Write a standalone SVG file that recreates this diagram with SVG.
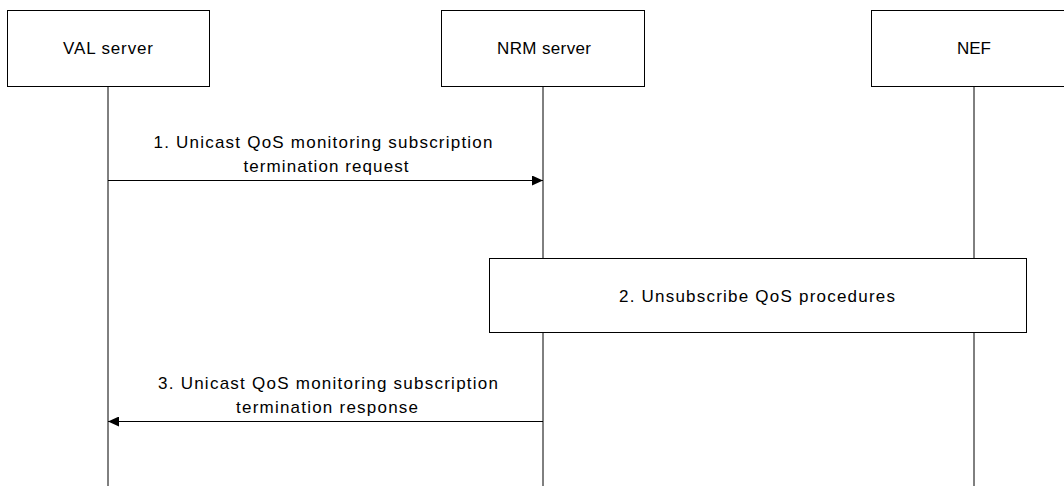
<svg xmlns="http://www.w3.org/2000/svg" width="1064" height="486" viewBox="0 0 1064 486">
<style>
.box{fill:#fff;stroke:#000;stroke-width:1}
.life{stroke:#000;stroke-width:1;fill:none}
.msg{stroke:#000;stroke-width:1;fill:none}
text{font-family:"Liberation Sans",Arial,sans-serif;font-size:17px;fill:#000;text-anchor:middle}
</style>
<defs>
<marker id="ah" viewBox="0 0 11 10" refX="11" refY="5" markerWidth="11" markerHeight="10" markerUnits="userSpaceOnUse" orient="auto">
<path d="M0,0 L11,5 L0,10 z" fill="#000"/>
</marker>
</defs>
<rect width="1064" height="486" fill="#fff"/>
<g id="connectors">
<line class="life" x1="108" y1="86" x2="108" y2="486"/>
<line class="life" x1="543" y1="86" x2="543" y2="258"/>
<line class="life" x1="543" y1="332" x2="543" y2="486"/>
<line class="life" x1="974" y1="86" x2="974" y2="258"/>
<line class="life" x1="974" y1="332" x2="974" y2="486"/>
<line class="msg" x1="108" y1="180.5" x2="543" y2="180.5" marker-end="url(#ah)"/>
<line class="msg" x1="543" y1="421.5" x2="108" y2="421.5" marker-end="url(#ah)"/>
</g>
<g id="val">
<rect class="box" x="7.5" y="10.5" width="202" height="76"/>
<text x="108" y="54" textLength="90" lengthAdjust="spacing">VAL server</text>
</g>
<g id="nrm">
<rect class="box" x="441.5" y="10.5" width="203" height="76"/>
<text x="544" y="54" textLength="94" lengthAdjust="spacing">NRM server</text>
</g>
<g id="nef">
<rect class="box" x="871.5" y="10.5" width="205" height="76"/>
<text x="974" y="54">NEF</text>
</g>
<g id="msg1">
<text x="323" y="148" textLength="339" lengthAdjust="spacing">1. Unicast QoS monitoring subscription</text>
<text x="326" y="172" textLength="165" lengthAdjust="spacing">termination request</text>
</g>
<g id="proc2">
<rect class="box" x="489.5" y="258.5" width="537" height="74"/>
<text x="757" y="302" textLength="276" lengthAdjust="spacing">2. Unsubscribe QoS procedures</text>
</g>
<g id="msg3">
<text x="328" y="389" textLength="340" lengthAdjust="spacing">3. Unicast QoS monitoring subscription</text>
<text x="327" y="413" textLength="182" lengthAdjust="spacing">termination response</text>
</g>
</svg>
